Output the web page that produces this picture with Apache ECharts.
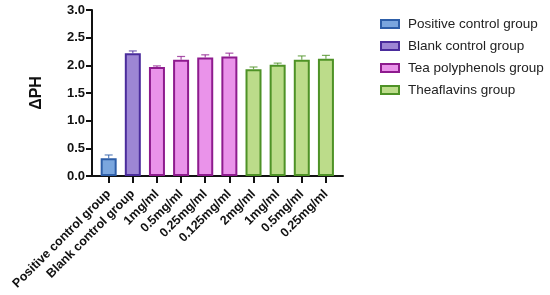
<!DOCTYPE html>
<html>
<head>
<meta charset="utf-8">
<style>
    html,body{margin:0;padding:0;background:#fff;}
    #phChart{width:550px;height:295px;}
</style>
<script src="https://cdn.jsdelivr.net/npm/echarts@6/dist/echarts.min.js"></script>
</head>
<body>
<div id="phChart"></div>
<script>
    // 数据
    var categories = ['Positive control group', 'Blank control group', '1mg/ml', '0.5mg/ml', '0.25mg/ml', '0.125mg/ml', '2mg/ml', '1mg/ml', '0.5mg/ml', '0.25mg/ml'];
    var groupNames = ['Positive control group', 'Blank control group', 'Tea polyphenols group', 'Theaflavins group'];
    var groupOf = [0, 1, 2, 2, 2, 2, 3, 3, 3, 3];
    var means = [0.32, 2.22, 1.97, 2.10, 2.14, 2.16, 1.93, 2.01, 2.10, 2.12];
    var errs = [0.06, 0.04, 0.02, 0.06, 0.05, 0.06, 0.04, 0.03, 0.07, 0.06];

    var fills = ['#7aa6de', '#9d86d4', '#ea93ea', '#bcdc8a'];
    var borders = ['#2d5ea8', '#4a2c9c', '#8e1b8e', '#4e9226'];

    var series = [];
    for (var g = 0; g < groupNames.length; g++) {
        var vals = [];
        for (var i = 0; i < means.length; i++) {
            vals.push(groupOf[i] == g ? means[i] : '-');
        }
        series.push({
            name: groupNames[g],
            type: 'bar',
            xAxisIndex: 1,
            yAxisIndex: 1,
            barWidth: 16,
            barGap: '-100%',
            data: vals,
            itemStyle: {color: fills[g], borderColor: borders[g], borderWidth: 2}
        });
    }
    // 误差线
    var errData = [];
    for (var k = 0; k < means.length; k++) errData.push([k, means[k], means[k] + errs[k], groupOf[k]]);
    series.push({
        type: 'custom',
        xAxisIndex: 1,
        yAxisIndex: 1,
        data: errData,
        z: 1,
        renderItem: function (params, api) {
            var x = api.value(0);
            var top = api.coord([x, api.value(2)]);
            var base = api.coord([x, api.value(1)]);
            var col = borders[api.value(3)];
            var st = {stroke: col, lineWidth: 1.2, opacity: 0.75};
            return {
                type: 'group',
                children: [
                    {type: 'line', shape: {x1: top[0], y1: top[1], x2: base[0], y2: base[1]}, style: st},
                    {type: 'line', shape: {x1: top[0] - 4, y1: top[1], x2: top[0] + 4, y2: top[1]}, style: st}
                ]
            };
        }
    });

    var option = {
        animation: false,
        textStyle: {fontFamily: 'Liberation Sans, Arial, sans-serif'},
        grid: [
            {left: 92, top: 10, right: 207, bottom: 119},   // 坐标轴线
            {left: 96.6, top: 10, right: 212, bottom: 119}  // 柱子
        ],
        legend: {
            data: groupNames,
            orient: 'vertical',
            left: 380,
            top: 17,
            padding: 0,
            itemGap: 8,
            itemWidth: 18,
            itemHeight: 8,
            icon: 'rect',
            textStyle: {fontSize: 13.5, color: '#222', padding: [0, 0, 0, 4]}
        },
        xAxis: [
            {
                type: 'value',
                gridIndex: 0,
                min: 0,
                max: 1,
                splitLine: {show: false},
                axisLine: {show: true, lineStyle: {color: '#111', width: 2}},
                axisTick: {show: false},
                axisLabel: {show: false}
            },
            {
                type: 'category',
                gridIndex: 1,
                data: categories,
                axisLine: {show: false},
                axisTick: {show: true, alignWithLabel: true, length: 7, lineStyle: {color: '#111', width: 2}},
                axisLabel: {
                    interval: 0,
                    rotate: 45,
                    margin: 16,
                    fontSize: 12.5,
                    fontWeight: 'bold',
                    color: '#111'
                }
            }
        ],
        yAxis: [
            {
                type: 'value',
                gridIndex: 0,
                min: 0,
                max: 3,
                interval: 0.5,
                name: 'ΔPH',
                nameLocation: 'middle',
                nameGap: 47,
                nameRotate: 90,
                nameTextStyle: {fontSize: 16, fontWeight: 'bold', color: '#111'},
                splitLine: {show: false},
                axisLine: {show: true, lineStyle: {color: '#111', width: 2}},
                axisTick: {show: true, length: 6, lineStyle: {color: '#111', width: 2}},
                axisLabel: {
                    fontSize: 13,
                    fontWeight: 'bold',
                    color: '#111',
                    margin: 7,
                    formatter: function (v) { return v.toFixed(1); }
                }
            },
            {
                type: 'value',
                gridIndex: 1,
                min: 0,
                max: 3,
                show: false,
                splitLine: {show: false}
            }
        ],
        series: series
    };

    var chart = echarts.init(document.getElementById('phChart'));
    chart.setOption(option);
</script>
</body>
</html>
